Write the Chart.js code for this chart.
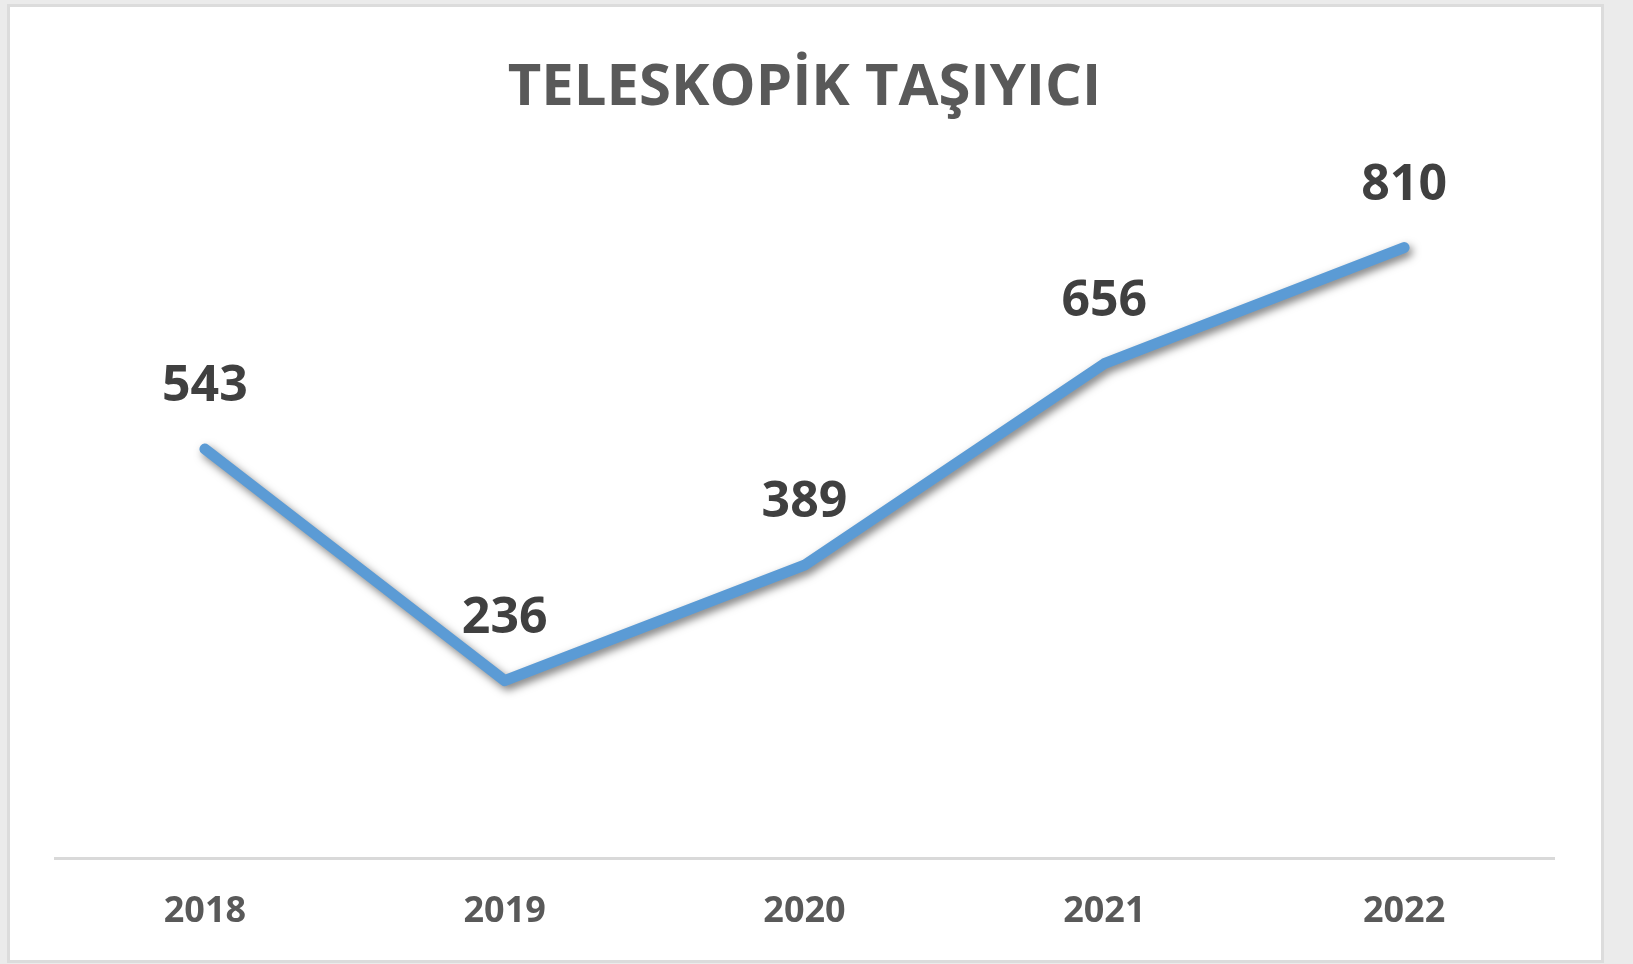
<!DOCTYPE html>
<html>
<head>
<meta charset="utf-8">
<script src="https://cdn.jsdelivr.net/npm/chart.js"></script>
<style>
  html,body{margin:0;padding:0;background:#ebebeb;}
  body{width:1633px;height:964px;position:relative;overflow:hidden;}
  #box{position:absolute;left:7px;top:4px;width:1591px;height:953px;background:#fff;border:3px solid #dcdcdc;}
  #wrap{position:absolute;left:0;top:0;width:1633px;height:964px;}
</style>
</head>
<body>
<div id="box"></div>
<div id="wrap"><canvas id="c"></canvas></div>
<script>
const years = ['2018','2019','2020','2021','2022'];
const values = [543, 236, 389, 656, 810];
const chartTitle = 'TELESKOPİK TAŞIYICI';
const FONT = "'Open Sans', sans-serif";

// soft shadow under the line, like the office original
const lineShadow = {
  id:'lineShadow',
  beforeDatasetDraw(chart){ const c=chart.ctx; c.save();
    c.shadowColor='rgba(0,0,0,0.5)'; c.shadowBlur=8; c.shadowOffsetX=3; c.shadowOffsetY=4; },
  afterDatasetDraw(chart){ chart.ctx.restore(); }
};
// value labels above each point
const valueLabels = {
  id:'valueLabels',
  afterDatasetsDraw(chart){
    const c=chart.ctx, meta=chart.getDatasetMeta(0);
    c.save(); c.font='bold 50px '+FONT; c.fillStyle='#404040';
    c.textAlign='center'; c.textBaseline='middle';
    meta.data.forEach((p,i)=>c.fillText(values[i], p.x, p.y-62));
    c.restore();
  }
};

new Chart(document.getElementById('c'),{
  type:'line',
  data:{labels:years,datasets:[{data:values,borderColor:'#5b9bd5',borderWidth:11,
    borderCapStyle:'round',borderJoinStyle:'round',pointRadius:0,tension:0,clip:false}]},
  options:{
    responsive:true,maintainAspectRatio:false,animation:false,
    layout:{padding:{left:55,right:79,top:26,bottom:8}},
    plugins:{legend:{display:false},tooltip:{enabled:false},
      title:{display:true,text:chartTitle,color:'#595959',font:{family:FONT,size:58,weight:'bold'},
        padding:{top:28,bottom:56}}},
    scales:{
      x:{offset:true,grid:{display:false},border:{color:'#d9d9d9',width:3},
        ticks:{color:'#595959',font:{family:FONT,size:36,weight:'bold'},padding:23}},
      y:{display:false,min:0,max:900}
    }
  },
  plugins:[lineShadow,valueLabels]
});
</script>
</body>
</html>
